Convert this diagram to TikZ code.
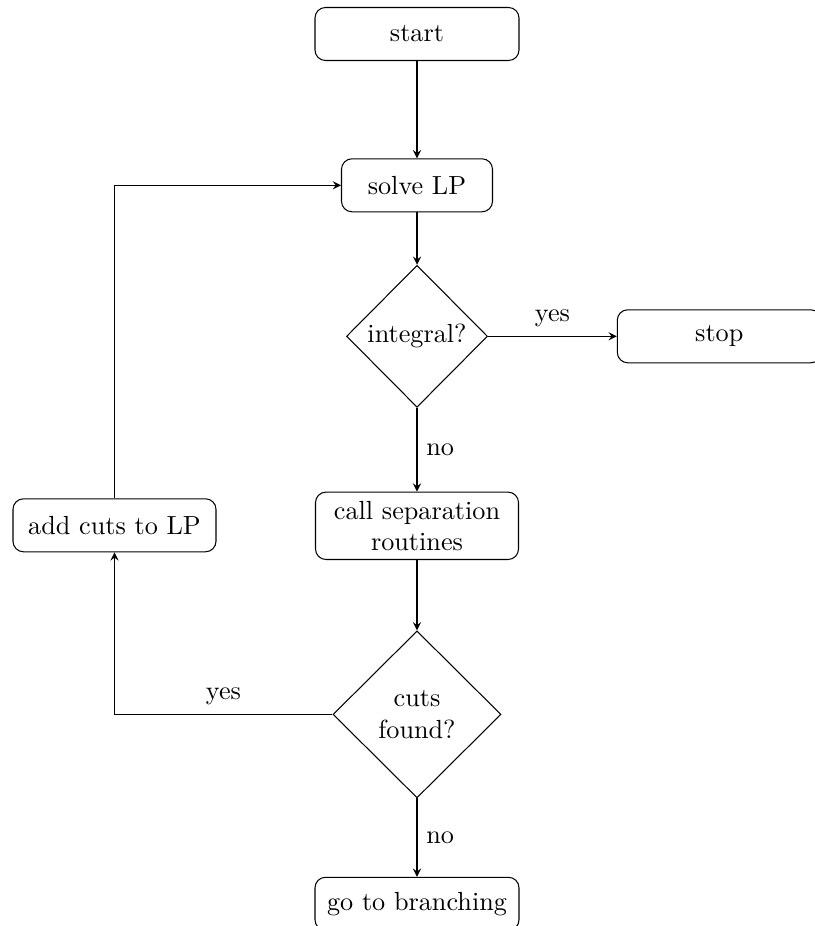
\documentclass[tikz,border=0pt]{standalone}
\usetikzlibrary{shapes.geometric,arrows}
\begin{document}
\begin{tikzpicture}[
  x=0.3817pt, y=-0.3817pt,
  >=stealth,
  box/.style={draw, rounded corners=4pt, align=center,
              minimum width=77.87pt, minimum height=20.23pt},
  decision/.style={draw, diamond, aspect=1, align=center, inner sep=0pt},
  flow/.style={->},
]
\useasboundingbox (0,0) rectangle (814,926);

\node[box] (start) at (417,34) {start};
\node[box, minimum width=57.64pt] (solve) at (417,185.3) {solve LP};
\node[decision, minimum width=53.82pt, minimum height=54.2pt] (integral) at (417,336.3) {integral?};
\node[box] (stop) at (719.3,336.3) {stop};
\node[box, minimum width=77.49pt] (sep) at (417,525.8) {call separation\\routines};
\node[box, minimum width=77.49pt] (add) at (114.5,525.3) {add cuts to LP};
\node[decision, minimum width=64.13pt, minimum height=63.74pt] (cuts) at (417,714.4) {cuts\\found?};
\node[box] (branch) at (417,903.8) {go to branching};

\draw[flow] (start) -- (solve);
\draw[flow] (solve) -- (integral);
\draw[flow] (integral) -- node[above] {yes} (stop);
\draw[flow] (integral) -- node[right] {no} (sep);
\draw[flow] (sep) -- (cuts);
\draw[flow] (cuts) -- node[right] {no} (branch);
\draw[flow] (cuts.west) -| node[pos=0.25, above] {yes} (add.south);
\draw[flow] (add.north) |- (solve.west);
\end{tikzpicture}
\end{document}
